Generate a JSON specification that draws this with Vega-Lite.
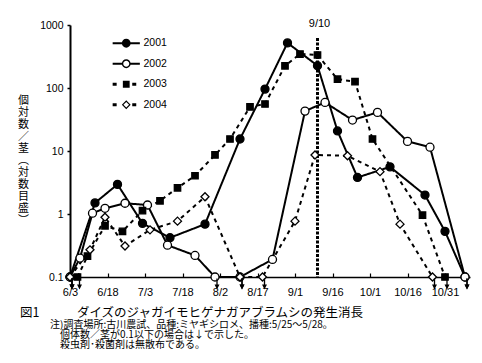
{
  "$schema": "https://vega.github.io/schema/vega-lite/v6.json",
  "autosize": {"type": "none"},
  "width": 400,
  "height": 252,
  "padding": {"left": 70, "top": 25, "right": 12, "bottom": 86},
  "background": "white",
  "config": {
    "view": {"stroke": null},
    "font": "Liberation Sans",
    "axis": {"labelOverlap": false, "labelFlush": false, "grid": false}
  },
  "resolve": {"scale": {"shape": "independent"}},
  "title": {
    "text": "図1　　　ダイズのジャガイモヒゲナガアブラムシの発生消長",
    "subtitle": ["\u200b　　　注)調査場所:古川農試、品種:ミヤギシロメ、播種:5/25～5/28。", "\u200b　　　　個体数／茎が0.1以下の場合は↓で示した。", "\u200b　　　　殺虫剤･殺菌剤は無散布である。"],
    "orient": "bottom", "anchor": "start", "frame": "group", "dx": -50, "offset": 10,
    "font": "Noto Sans CJK JP", "fontSize": 12.5, "fontWeight": "normal", "color": "black",
    "subtitleFont": "Noto Sans CJK JP", "subtitleFontSize": 10, "subtitleColor": "black", "subtitleLineHeight": 10.2, "subtitlePadding": 0.5
  },
  "data": {
    "format": {"parse": {"date": "date:'%m/%d'"}},
    "values": [
      {"year": "2001", "date": "6/3", "count": 0.1},
      {"year": "2001", "date": "6/13", "count": 1.5},
      {"year": "2001", "date": "6/22", "count": 2.95},
      {"year": "2001", "date": "7/2", "count": 0.71},
      {"year": "2001", "date": "7/13", "count": 0.42},
      {"year": "2001", "date": "7/27", "count": 0.69},
      {"year": "2001", "date": "8/10", "count": 15.5},
      {"year": "2001", "date": "8/20", "count": 96},
      {"year": "2001", "date": "8/29", "count": 520},
      {"year": "2001", "date": "9/10", "count": 226},
      {"year": "2001", "date": "9/18", "count": 20.8},
      {"year": "2001", "date": "9/26", "count": 3.8},
      {"year": "2001", "date": "10/9", "count": 5.6},
      {"year": "2001", "date": "10/23", "count": 2.0},
      {"year": "2001", "date": "10/31", "count": 0.53},
      {"year": "2001", "date": "11/8", "count": 0.1},
      {"year": "2002", "date": "6/3", "count": 0.1},
      {"year": "2002", "date": "6/7", "count": 0.2},
      {"year": "2002", "date": "6/12", "count": 1.03},
      {"year": "2002", "date": "6/17", "count": 1.23},
      {"year": "2002", "date": "6/25", "count": 1.48},
      {"year": "2002", "date": "7/4", "count": 1.39},
      {"year": "2002", "date": "7/12", "count": 0.32},
      {"year": "2002", "date": "7/23", "count": 0.22},
      {"year": "2002", "date": "7/31", "count": 0.1},
      {"year": "2002", "date": "8/10", "count": 0.1},
      {"year": "2002", "date": "8/23", "count": 0.19},
      {"year": "2002", "date": "9/5", "count": 43},
      {"year": "2002", "date": "9/13", "count": 59},
      {"year": "2002", "date": "9/24", "count": 31},
      {"year": "2002", "date": "10/4", "count": 41},
      {"year": "2002", "date": "10/16", "count": 14.2},
      {"year": "2002", "date": "10/25", "count": 11.5},
      {"year": "2002", "date": "11/8", "count": 0.1},
      {"year": "2003", "date": "6/6", "count": 0.1},
      {"year": "2003", "date": "6/10", "count": 0.215},
      {"year": "2003", "date": "6/17", "count": 0.65},
      {"year": "2003", "date": "6/24", "count": 0.53},
      {"year": "2003", "date": "7/2", "count": 1.13},
      {"year": "2003", "date": "7/9", "count": 1.62},
      {"year": "2003", "date": "7/16", "count": 2.6},
      {"year": "2003", "date": "7/23", "count": 4.05},
      {"year": "2003", "date": "7/31", "count": 8.65},
      {"year": "2003", "date": "8/6", "count": 15.5},
      {"year": "2003", "date": "8/14", "count": 50},
      {"year": "2003", "date": "8/20", "count": 55.7},
      {"year": "2003", "date": "8/28", "count": 225},
      {"year": "2003", "date": "9/3", "count": 346},
      {"year": "2003", "date": "9/10", "count": 334},
      {"year": "2003", "date": "9/18", "count": 138},
      {"year": "2003", "date": "9/25", "count": 126},
      {"year": "2003", "date": "10/2", "count": 15.5},
      {"year": "2003", "date": "10/22", "count": 0.96},
      {"year": "2003", "date": "10/31", "count": 0.1},
      {"year": "2004", "date": "6/3", "count": 0.1},
      {"year": "2004", "date": "6/11", "count": 0.27},
      {"year": "2004", "date": "6/17", "count": 0.89},
      {"year": "2004", "date": "6/25", "count": 0.31},
      {"year": "2004", "date": "7/5", "count": 0.56},
      {"year": "2004", "date": "7/16", "count": 0.77},
      {"year": "2004", "date": "7/27", "count": 1.88},
      {"year": "2004", "date": "8/10", "count": 0.1},
      {"year": "2004", "date": "8/19", "count": 0.1},
      {"year": "2004", "date": "9/1", "count": 0.77},
      {"year": "2004", "date": "9/9", "count": 8.65},
      {"year": "2004", "date": "9/22", "count": 8.4},
      {"year": "2004", "date": "10/5", "count": 4.7},
      {"year": "2004", "date": "10/13", "count": 0.69},
      {"year": "2004", "date": "10/26", "count": 0.1}
    ]
  },
  "layer": [
    {
      "data": {"format": {"parse": {"date": "date:'%m/%d'"}}, "values": [{"date": "9/10", "label": "9/10"}]},
      "layer": [
        {
          "mark": {"type": "rule", "color": "black", "strokeWidth": 3, "strokeDash": [3, 1.5]},
          "encoding": {
            "x": {
              "field": "date", "type": "temporal",
              "scale": {"domain": [{"year": 1900, "month": 6, "date": 3}, {"year": 1900, "month": 11, "date": 10}]},
              "axis": {
                "values": [
                  {"year": 1900, "month": 6, "date": 3}, {"year": 1900, "month": 6, "date": 18},
                  {"year": 1900, "month": 7, "date": 3}, {"year": 1900, "month": 7, "date": 18},
                  {"year": 1900, "month": 8, "date": 2}, {"year": 1900, "month": 8, "date": 17},
                  {"year": 1900, "month": 9, "date": 1}, {"year": 1900, "month": 9, "date": 16},
                  {"year": 1900, "month": 10, "date": 1}, {"year": 1900, "month": 10, "date": 16},
                  {"year": 1900, "month": 10, "date": 31}
                ],
                "tickCount": 30,
                "format": "%-m/%-d", "title": null, "grid": false,
                "tickSize": -4, "labelPadding": 13, "labelFlush": false, "labelOverlap": false, "labelBound": false,
                "labelFont": "Liberation Sans", "labelFontSize": 11, "labelColor": "black",
                "domainColor": "black", "domainWidth": 1.5, "tickColor": "black", "tickWidth": 1.2
              }
            },
            "y": {"datum": 620},
            "y2": {"datum": 0.1}
          }
        },
        {
          "mark": {"type": "text", "font": "Liberation Sans", "fontSize": 11, "baseline": "middle", "dy": -1, "dx": 2, "color": "black"},
          "encoding": {
            "x": {"field": "date", "type": "temporal"},
            "y": {"datum": 1000},
            "text": {"field": "label"}
          }
        }
      ]
    },
    {
      "mark": {"type": "line", "color": "black"},
      "encoding": {
        "x": {"field": "date", "type": "temporal"},
        "y": {
          "field": "count", "type": "quantitative",
          "scale": {"type": "log", "domain": [0.1, 1000], "nice": false},
          "axis": {
            "values": [0.1, 1, 10, 100, 1000], "format": "~g", "grid": false, "tickCount": 10,
            "tickSize": 3, "labelPadding": 4,
            "labelFont": "Liberation Sans", "labelFontSize": 10.5, "labelColor": "black",
            "domainColor": "black", "domainWidth": 2, "tickColor": "black", "tickWidth": 1.5,
            "title": ["個", "対", "数", "／", "茎", "︵", "対", "数", "目", "盛", "︶"],
            "titleAngle": 0, "titleX": -47, "titleY": 69, "titleAlign": "center", "titleBaseline": "top",
            "titleFont": "Noto Sans CJK JP", "titleFontSize": 11, "titleFontWeight": "normal", "titleColor": "black",
            "titleLineHeight": 12
          }
        },
        "strokeDash": {
          "field": "year", "type": "nominal",
          "scale": {"domain": ["2001", "2002", "2003", "2004"], "range": [[1, 0], [1, 0], [4, 4], [4, 4]]},
          "legend": null
        },
        "strokeWidth": {
          "field": "year", "type": "nominal",
          "scale": {"domain": ["2001", "2002", "2003", "2004"], "range": [2, 2, 2.8, 2.8]},
          "legend": null
        }
      }
    },
    {
      "mark": {"type": "point", "filled": false, "color": "black", "strokeWidth": 1.3, "size": 64, "opacity": 1},
      "encoding": {
        "x": {"field": "date", "type": "temporal"},
        "y": {"field": "count", "type": "quantitative"},
        "shape": {
          "field": "year", "type": "nominal",
          "scale": {"range": ["circle", "circle", "M-0.8,-0.8H0.8V0.8H-0.8Z", "diamond"]},
          "legend": null
        },
        "fill": {
          "field": "year", "type": "nominal",
          "scale": {"range": ["black", "white", "black", "white"]},
          "legend": null
        }
      }
    },
    {
      "mark": {"type": "point", "filled": true, "color": "black", "strokeWidth": 0, "size": 64, "opacity": 0},
      "encoding": {
        "x": {"field": "date", "type": "temporal"},
        "y": {"field": "count", "type": "quantitative"},
        "shape": {
          "field": "year", "type": "nominal",
          "scale": {"range": [
            "M-3.4,-0.25H3.4V0.25H-3.4Z M1.1,0A1.1,1.1 0 1,1 -1.1,0A1.1,1.1 0 1,1 1.1,0Z",
            "M-3.4,-0.25H-1V0.25H-3.4Z M1,-0.25H3.4V0.25H1Z M1.1,0A1.1,1.1 0 1,1 -1.1,0A1.1,1.1 0 1,1 1.1,0Z M0.75,0A0.75,0.75 0 1,0 -0.75,0A0.75,0.75 0 1,0 0.75,0Z",
            "M-3.4,-0.35H-2.4V0.35H-3.4Z M-0.85,-0.85H0.85V0.85H-0.85Z M1.5,-0.35H2.5V0.35H1.5Z",
            "M-3.4,-0.35H-2.4V0.35H-3.4Z M0,-1.1L1.1,0L0,1.1L-1.1,0Z M0,-0.7L-0.7,0L0,0.7L0.7,0Z M1.5,-0.35H2.5V0.35H1.5Z"
          ]},
          "legend": {
            "orient": "none", "legendX": 51, "legendY": 13, "title": null, "padding": 0,
            "rowPadding": 9.5, "symbolSize": 64, "symbolOpacity": 1,
            "symbolFillColor": "black", "symbolStrokeColor": "transparent", "symbolStrokeWidth": 0,
            "labelFont": "Liberation Sans", "labelFontSize": 10.5, "labelColor": "black", "labelOffset": 12
          }
        }
      }
    },
    {
      "transform": [{"filter": "datum.count <= 0.1"}],
      "mark": {"type": "point", "shape": "M-0.12,-1H0.12V0.1H0.45L0,1L-0.45,0.1H-0.12Z", "filled": true, "color": "black", "size": 121, "yOffset": 7, "xOffset": 2, "opacity": 1},
      "encoding": {
        "x": {"field": "date", "type": "temporal"},
        "y": {"field": "count", "type": "quantitative"}
      }
    }
  ]
}
